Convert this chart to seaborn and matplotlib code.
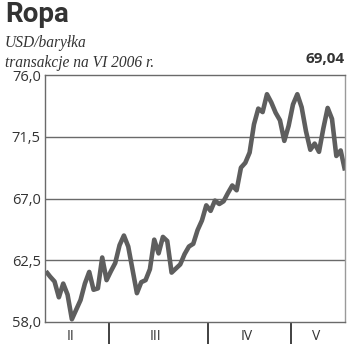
import matplotlib
matplotlib.use("Agg")
import matplotlib.pyplot as plt
import seaborn as sns
import pandas as pd

# Data: daily oil prices (USD/barrel), trading days Feb-May 2006
prices = [61.7, 61.3, 60.95, 59.8, 60.8, 60.0, 58.2, 58.9, 59.6, 60.8,
          61.65, 60.35, 60.45, 62.7, 61.05, 61.7, 62.3, 63.6, 64.3, 63.5,
          61.8, 60.1, 60.9, 61.05, 61.85, 64.0, 63.0, 64.2, 63.9, 61.6,
          61.9, 62.2, 62.95, 63.5, 63.7, 64.7, 65.4, 66.5, 66.1, 66.85,
          66.6, 66.8, 67.4, 67.95, 67.6, 69.25, 69.6, 70.35, 72.4, 73.55,
          73.3, 74.6, 74.0, 73.25, 72.7, 71.2, 72.3, 73.85, 74.6, 73.65,
          71.9, 70.55, 71.0, 70.4, 72.1, 73.6, 72.8, 70.1, 70.5, 69.04]
month_labels = ["II", "III", "IV", "V"]
month_days = [15, 23, 19, 13]
y_ticks = [58.0, 62.5, 67.0, 71.5, 76.0]
y_tick_labels = ["58,0", "62,5", "67,0", "71,5", "76,0"]
title = "Ropa"
subtitle = "USD/baryłka\ntransakcje na VI 2006 r."
last_label = "69,04"

df = pd.DataFrame({"day": range(len(prices)), "price": prices})

sns.set_style("white")
plt.rcParams["font.family"] = ["Open Sans", "DejaVu Sans"]

fig = plt.figure(figsize=(3.5, 3.54), dpi=100)
ax = fig.add_axes([45 / 350, 32 / 354, 300 / 350, 247 / 354])

sns.lineplot(data=df, x="day", y="price", ax=ax, color="#5e5e5e",
             linewidth=3.3, solid_joinstyle="round", solid_capstyle="butt")

ax.set_xlim(-0.2, len(prices) - 1)
ax.set_ylim(58.0, 76.0)
ax.set_xlabel("")
ax.set_ylabel("")

# horizontal grid
for v in y_ticks[1:-1]:
    ax.axhline(v, color="#6a6a6a", linewidth=1.0, zorder=0)

ax.set_yticks(y_ticks)
ax.set_yticklabels(y_tick_labels, fontsize=10.5, color="#333333")
ax.tick_params(axis="y", length=0, pad=3)

# month boundaries as ticks
bounds = []
acc = -0.5
for d in month_days[:-1]:
    acc += d
    bounds.append(acc)
ax.set_xticks(bounds)
ax.set_xticklabels([""] * len(bounds))
ax.tick_params(axis="x", bottom=True, direction="out", length=16, width=1.3,
               color="#333333")

label_pos = [5.6, 25.2, 46.4, 62.4]
for lab, xp in zip(month_labels, label_pos):
    ax.text(xp, -0.058, lab, transform=ax.get_xaxis_transform(), ha="center",
            va="center", fontsize=10, color="#333333")

for side in ["left", "bottom", "top"]:
    ax.spines[side].set_color("#6a6a6a")
    ax.spines[side].set_linewidth(1.0)
ax.spines["right"].set_color("#9a9a9a")
ax.spines["right"].set_linewidth(1.0)
ax.spines["top"].set_visible(True)
ax.spines["right"].set_visible(True)

fig.text(5 / 350, 1 - 15 / 354, title, fontsize=20, fontweight="bold",
         family=["Roboto", "DejaVu Sans"], color="#333333", va="center", ha="left")
fig.text(5 / 350, 1 - 53 / 354, subtitle, fontsize=11.2, style="italic",
         family=["Liberation Serif", "DejaVu Serif"], color="#333333",
         va="center", ha="left", linespacing=1.3)
fig.text(345 / 350, 1 - 59 / 354, last_label, fontsize=11, fontweight="bold",
         color="#333333", va="center", ha="right")

fig.savefig("out.png", dpi=100)
